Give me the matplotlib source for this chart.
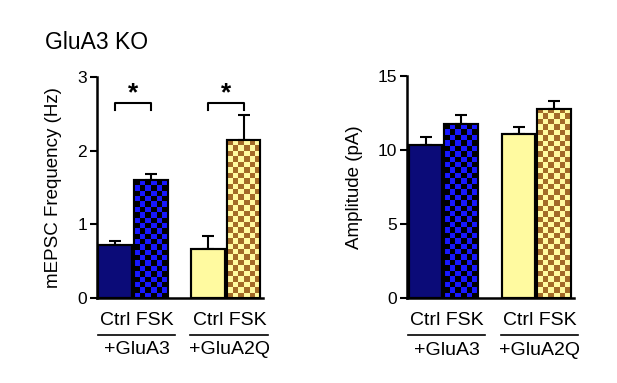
import numpy as np
import matplotlib
matplotlib.use("Agg")
import matplotlib.pyplot as plt
from matplotlib.colors import ListedColormap

plt.rcParams['font.family'] = ['Liberation Sans', 'DejaVu Sans']

# dados
conditions = ["Ctrl", "FSK", "Ctrl", "FSK"]
groups = ["+GluA3", "+GluA2Q"]
freq_mean = [0.72, 1.60, 0.67, 2.14]
freq_sem = [0.06, 0.08, 0.17, 0.35]
amp_mean = [10.32, 11.74, 11.10, 12.77]
amp_sem = [0.55, 0.60, 0.47, 0.55]
sig_pairs = [(0, 1), (2, 3)]

xpos = [0, 1, 2.62, 3.62]
navy = "#0b0b78"
blue = "#1818ff"
yellow = "#fffaa0"
brown = "#a26a28"
face = [navy, None, yellow, None]
checks = [None, ("black", blue), None, (brown, yellow)]

fig = plt.figure(figsize=(6.17, 3.83), dpi=100)
ax1 = fig.add_axes([0.157, 0.222, 0.270, 0.577])
ax2 = fig.add_axes([0.660, 0.222, 0.270, 0.580])


def checker(ax, patch, c1, c2, cell=5.4):
    x0, w, h = patch.get_x(), patch.get_width(), patch.get_height()
    p0 = ax.transData.transform((x0, 0))
    p1 = ax.transData.transform((x0 + w, h))
    nx = max(1, int(round((p1[0] - p0[0]) / cell)))
    ny = max(1, int(round((p1[1] - p0[1]) / cell)))
    arr = np.indices((ny, nx)).sum(axis=0) % 2
    im = ax.imshow(arr, cmap=ListedColormap([c1, c2]), extent=(x0, x0 + w, 0, h),
                   aspect='auto', interpolation='nearest', zorder=2)
    im.set_clip_path(patch)


def painel(ax, means, sems, ymax, yticks, ylabel):
    ax.set_xlim(-0.52, 4.18)
    ax.set_ylim(0, ymax)
    bars = ax.bar(xpos, means, width=0.95, color=[c if c else "white" for c in face],
                  edgecolor="black", linewidth=1.5, zorder=1)
    for b, ch in zip(bars, checks):
        if ch:
            checker(ax, b, ch[0], ch[1])
    ax.bar(xpos, means, width=0.95, facecolor="none", edgecolor="black", linewidth=1.5, zorder=3)
    ax.errorbar(xpos, means, yerr=[np.zeros(len(sems)), sems], fmt='none', ecolor="black",
                elinewidth=1.5, capsize=4, capthick=1.5, zorder=0)
    ax.set_xlim(-0.52, 4.18)
    ax.set_ylim(0, ymax)
    ax.set_yticks(yticks)
    ax.set_ylabel(ylabel, fontsize=13.5, labelpad=11)
    ax.set_xticks([])
    ax.tick_params(axis='y', length=5, width=1.5, labelsize=12.5, pad=2)
    for s in ["top", "right"]:
        ax.spines[s].set_visible(False)
    ax.spines["left"].set_linewidth(1.8)
    ax.spines["bottom"].set_linewidth(1.8)
    tr = ax.get_xaxis_transform()
    for g, (i, j) in enumerate(sig_pairs):
        mid = (xpos[i] + xpos[j]) / 2 + 0.1
        ax.text(mid, -0.1, conditions[i] + " " + conditions[j], transform=tr,
                ha="center", va="center", fontsize=14)
        ax.plot([xpos[i] - 0.5, xpos[j] + 0.68], [-0.167, -0.167], color="black", lw=1.2,
                transform=tr, clip_on=False)
        ax.text(mid, -0.235, groups[g], transform=tr,
                ha="center", va="center", fontsize=14)


painel(ax1, freq_mean, freq_sem, 3, [0, 1, 2, 3], "mEPSC Frequency (Hz)")
painel(ax2, amp_mean, amp_sem, 15, [0, 5, 10, 15], "Amplitude (pA)")

# asteriscos
for i, j in sig_pairs:
    ax1.plot([xpos[i], xpos[i], xpos[j], xpos[j]], [2.55, 2.65, 2.65, 2.55], color="black",
             lw=1.5, clip_on=False)
    ax1.text((xpos[i] + xpos[j]) / 2, 2.62, "*", ha="center", va="bottom", fontsize=19,
             fontweight="bold")

fig.text(0.073, 0.89, "GluA3 KO", fontsize=16.5, ha="left", va="center")

fig.savefig("out.png", dpi=100)
